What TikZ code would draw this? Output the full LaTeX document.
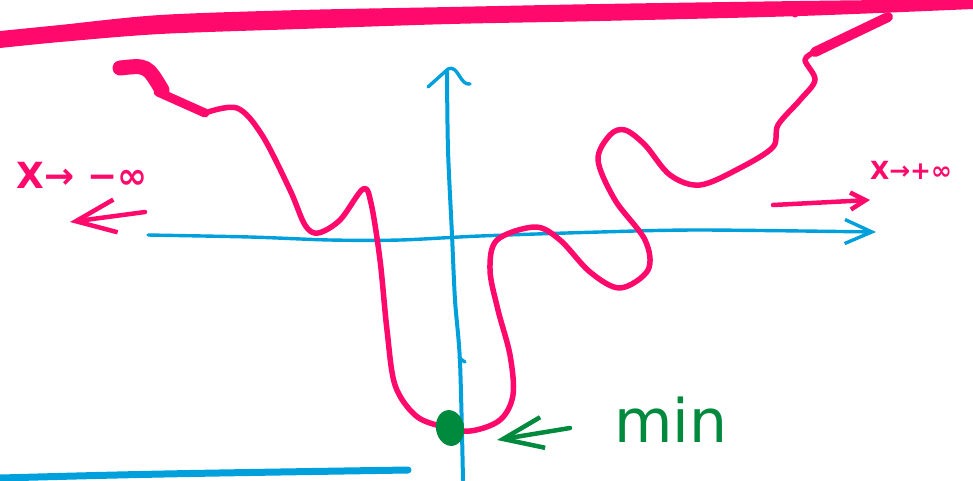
\documentclass[tikz,border=0pt]{standalone}
\usepackage{fontspec}
\setmainfont{DejaVu Sans}
\usetikzlibrary{arrows.meta,shapes.geometric}
\definecolor{inkpink}{HTML}{FF0A6C}
\definecolor{inkblue}{HTML}{00A0DC}
\definecolor{inkgreen}{HTML}{008A3E}
\tikzset{
  curvepen/.style={draw=inkpink, line width=5.5pt, line cap=round, line join=round},
  axispen/.style={draw=inkblue, line width=3.4pt, line cap=round, line join=round},
  pinkarr/.style={-{Straight Barb[length=40pt, width=33pt]}, line width=4.5pt,
                  line cap=round, color=inkpink},
  smallarr/.style={-{Straight Barb[length=15pt, width=17pt]}, line width=4.5pt,
                   line cap=round, color=inkpink},
  axisarr/.style={-{Straight Barb[length=27pt, width=24pt]}},
  greenarr/.style={-{Straight Barb[length=40pt, width=31pt]}, line width=4.5pt,
                   line cap=round, color=inkgreen},
  lbl/.style={inner sep=0pt, text=inkpink}}

\begin{document}
\begin{tikzpicture}[x=1pt, y=-1pt]
  \useasboundingbox[fill=white] (0,0) rectangle (973,480);
  % top and bottom strokes
  \fill[inkpink] plot[smooth] coordinates {(0,31) (60,25) (160,15) (300,10) (450,7) (600,4) (800,1) (973,-1)}
    -- plot[smooth] coordinates {(973,9) (800,16) (600,21) (450,24) (300,29) (160,34) (60,42) (0,48)} -- cycle;
  \fill[inkpink] (795,14) circle (3.5pt);
  \draw[inkblue, line width=7pt, line cap=round] (0,478) .. controls (150,474) .. (408,470);
  % axes
  \draw[axispen, axisarr] plot[smooth] coordinates
    {(148,235) (250,237) (330,240) (400,240) (480,236) (600,232) (700,230) (876,232)};
  \draw[axispen, line width=4pt] plot[smooth] coordinates
    {(463,480) (460,362) (455,300) (452,235) (448,150) (447,72)};
  \draw[axispen] (428,87) -- (448,69) .. controls (458,64) and (460,86) .. (470,84);
  \draw[axispen] (459,358) -- (465,362);
  % the function
  \draw[inkpink, line width=15pt, line cap=round] (120,68) .. controls (147,65) .. (162,90);
  \draw[inkpink, line width=9pt, line cap=round] (158,92) -- (205,113);
  \draw[curvepen] plot[smooth, tension=0.55] coordinates
    {(205,113) (237,108) (262,135) (290,190) (305,225) (318,233) (340,220) (363,189)
     (371,203) (380,260) (387,330) (395,385) (415,415) (440,426) (470,431) (500,420)
     (513,395) (510,355) (498,310) (490,270) (497,240) (535,227) (560,240) (590,272)
     (620,288) (648,270) (645,240) (615,200) (598,160) (610,135) (625,130) (645,145)
     (670,175) (700,185) (740,168) (773,147) (778,125) (800,100) (815,80) (805,60) (815,52)};
  \draw[inkpink, line width=10pt, line cap=round] (815,52) -- (888,17);
  \node[ellipse, fill=inkgreen, minimum width=28pt, minimum height=36pt, inner sep=0pt,
        rotate=10] (minpt) at (450,428) {};
  % labels and hints
  \node[lbl, font=\bfseries\fontsize{36}{36}\selectfont] (leftlbl) at (82,175) {X→ −∞};
  \node[lbl, font=\bfseries\fontsize{25}{25}\selectfont] (rightlbl) at (911,170) {X→+∞};
  \draw[pinkarr] (145,212) -- (70,222);
  \draw[smallarr] (773,205) -- (870,200);
  \draw[greenarr] (570,428) -- (497,440);
  \node[inner sep=0pt, anchor=base, text=inkgreen, font=\fontsize{60}{60}\selectfont]
    (minlbl) at (671,442) {min};
\end{tikzpicture}
\end{document}
